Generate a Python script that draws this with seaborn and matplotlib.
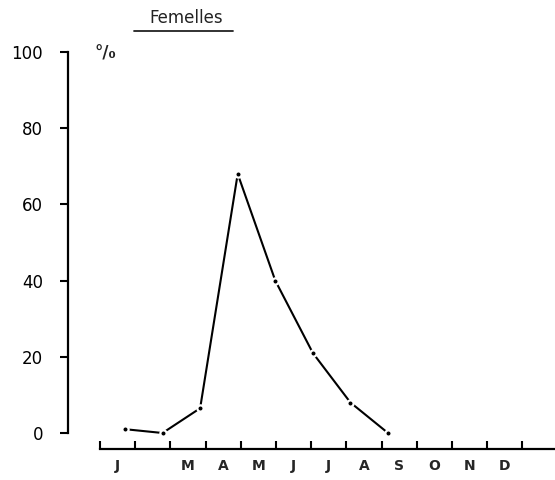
import matplotlib
matplotlib.use("Agg")
import matplotlib.pyplot as plt
import seaborn as sns
import pandas as pd
from matplotlib.lines import Line2D

# ---- data ----
month_labels = ["J", "", "M", "A", "M", "J", "J", "A", "S", "O", "N", "D"]
obs_months = ["J", "F", "M", "A", "M", "J", "J", "A"]
obs_index = [0, 1, 2, 3, 4, 5, 6, 7]
pct_values = [1.0, 0.0, 6.5, 68.0, 40.0, 21.0, 8.0, 0.0]
y_ticks = [0, 20, 40, 60, 80, 100]

sns.set_theme(style="white")
plt.rcParams['font.family'] = ['DejaVu Sans']

W, H = 555, 480
fig = plt.figure(figsize=(W / 100, H / 100), dpi=100)
fig.patch.set_facecolor("white")

# main data axes
ax = fig.add_axes([68 / W, (H - 433) / H, (W - 68) / W, 381 / H])
df = pd.DataFrame({"m": obs_index, "v": pct_values})
sns.lineplot(data=df, x="m", y="v", ax=ax, color="black", lw=1.5,
             marker="o", markersize=4.5, markerfacecolor="black",
             markeredgecolor="white", markeredgewidth=1.6, clip_on=False)
ax.set_xlim(-57 / 37.57, (W - 125) / 37.57)
ax.set_ylim(0, 100)
ax.set_yticks(y_ticks)
ax.set_yticklabels([str(t) for t in y_ticks], fontsize=12)
ax.set_xticks([])
ax.set_xlabel("")
ax.set_ylabel("")
for s in ["top", "right", "bottom"]:
    ax.spines[s].set_visible(False)
ax.spines["left"].set_color("black")
ax.spines["left"].set_linewidth(1.6)
ax.tick_params(axis="y", direction="out", length=6, width=1.5, pad=12,
               colors="black", left=True)
ax.patch.set_alpha(0)

# month axis below
mx = fig.add_axes([100 / W, (H - 449) / H, (W - 100) / W, 0.001])
mx.set_xlim(0, (W - 100) / 35.2)
mx.set_ylim(0, 1)
mx.set_yticks([])
for s in ["top", "right", "left"]:
    mx.spines[s].set_visible(False)
mx.spines["bottom"].set_color("black")
mx.spines["bottom"].set_linewidth(1.6)
mx.set_xticks(list(range(13)))
mx.set_xticklabels([""] * 13)
mx.set_xticks([i + 0.5 for i in range(12)], minor=True)
mx.set_xticklabels(month_labels, minor=True, fontsize=10, fontweight="bold")
mx.tick_params(axis="x", which="major", direction="in", length=6, width=1.5,
               bottom=True, colors="black")
mx.tick_params(axis="x", which="minor", length=0, pad=7, bottom=True)
mx.patch.set_alpha(0)

# title and unit
fig.text(186 / W, 1 - 18 / H, "Femelles", ha="center", va="center",
         fontsize=12, color="#222222")
fig.add_artist(Line2D([134 / W, 233 / W], [1 - 31 / H, 1 - 31 / H],
                      color="#222222", lw=1.3, transform=fig.transFigure))
fig.text(105 / W, 1 - 54 / H, "°/₀", ha="center", va="center",
         fontsize=12, fontweight="bold", color="#222222")

fig.savefig("out.png", dpi=100, facecolor="white")
